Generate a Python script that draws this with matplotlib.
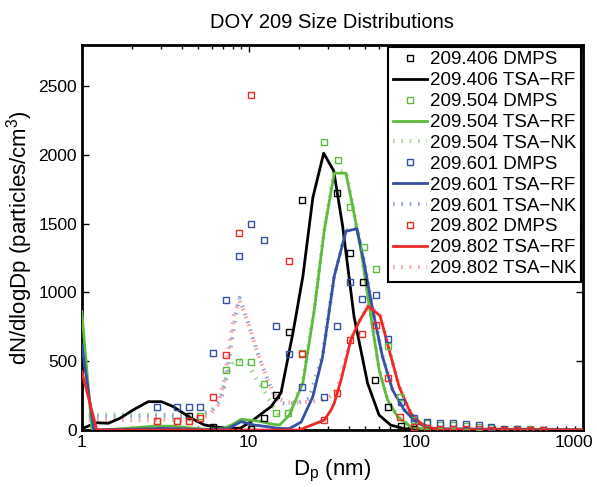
import matplotlib
matplotlib.use('Agg')
from matplotlib import pyplot as plt
from matplotlib.transforms import ScaledTranslation

plt.rcParams['font.family'] = ['Liberation Sans', 'DejaVu Sans']
plt.rcParams['mathtext.default'] = 'regular'

# DMPS measurements (diameter nm, dN/dlogDp)
d_k = [4.37, 6.1, 8.6, 10.3, 12.3, 14.6, 17.5, 20.8, 33.8, 40.3, 48.1, 57.1, 68.5, 81.5, 98, 117]
n_k = [100, 24, 0, 10, 85, 255, 712, 1669, 1725, 1288, 1074, 364, 165, 30, 10, 5]

d_g = [2.82, 3.71, 4.37, 5.1, 7.26, 8.7, 10.3, 12.3, 14.6, 17.3, 20.8, 28.4, 34.1, 40.2, 48.7,
       57.8, 68.5, 81, 98, 117, 140, 167, 199, 238, 284, 340, 405, 485, 578]
n_g = [66, 66, 68, 102, 437, 498, 493, 335, 126, 122, 559, 2090, 1961, 1623, 1329,
       1171, 612, 243, 73, 50, 40, 35, 30, 25, 15, 10, 5, 5, 3]

d_b = [2.82, 3.71, 4.37, 5.1, 6.1, 7.26, 8.7, 10.3, 12.3, 14.6, 17.5, 20.8, 28.4, 33.7, 40.2,
       48, 57.5, 68.5, 81.9, 98, 117, 140, 167, 199, 238, 284, 340, 405, 485, 578]
n_b = [165, 165, 170, 170, 559, 948, 1263, 1501, 1378, 753, 554, 316, 243, 753, 1074,
       955, 979, 661, 206, 85, 55, 50, 48, 45, 35, 20, 10, 5, 3, 2]

d_r = [2.82, 3.71, 4.37, 5.1, 6.1, 7.26, 8.7, 10.3, 17.5, 20.8, 28.4, 33.7, 40.2, 48, 57.5,
       68.5, 81, 98, 117, 140, 167, 199, 238, 284, 340, 405, 485, 578]
n_r = [68, 68, 68, 85, 238, 547, 1429, 2434, 1232, 554, 73, 272, 651, 698, 765,
       381, 92, 20, 15, 10, 10, 8, 5, 0, 0, 0, 0, 0]

# TSA-RF inversions
rf_dk = [1.0, 1.23, 1.44, 1.69, 2.03, 2.5, 3.0, 3.53, 3.78, 4.53, 5.45, 6.25, 7.5, 8.8, 10.3,
         12.4, 13.6, 15.6, 18.4, 21.1, 24.2, 28.1, 32.3, 36.5, 42.7, 51.5, 60.3, 70.8, 85, 110, 1000]
rf_nk = [10, 53, 49, 85, 146, 206, 206, 170, 146, 85, 36, 24, 12, 10, 60,
         134, 170, 270, 707, 1117, 1689, 2012, 1883, 1482, 826, 340, 109, 36, 10, 0, 0]

rf_dg = [1.0, 1.15, 1.5, 2.0, 2.7, 3.5, 4.5, 5.5, 7.0, 8.0, 9.0, 10.5, 11.9, 13.5, 15.3, 17.5,
         21.1, 24.7, 28.4, 32.5, 38.2, 41.9, 47.0, 53.9, 60.4, 67.8, 77.8, 93.3, 115, 1000]
rf_ng = [862, 0, 5, 15, 28, 28, 15, 5, 10, 40, 78, 70, 61, 45, 36, 109,
         343, 875, 1458, 1867, 1867, 1627, 1312, 824, 437, 219, 97, 24, 5, 0]

rf_db = [1.0, 1.18, 2, 3, 4, 5.5, 7.5, 9.0, 10.8, 13.0, 15, 17.5, 20.6, 24.2, 27.7, 32.5,
         38.2, 44.4, 49.1, 55.2, 63.2, 72.6, 85.2, 102, 125, 1000]
rf_nb = [620, 0, 5, 12, 8, 2, 10, 61, 36, 24, 12, 10, 58, 243, 534, 1117,
         1445, 1463, 1215, 875, 534, 292, 146, 51, 10, 0]

rf_dr = [1.0, 1.23, 20, 28.4, 31.1, 32.5, 35.7, 40.9, 45.9, 51.9, 61.2, 69.3, 79.5, 93.3,
         107, 123, 150, 1000]
rf_nr = [425, 0, 0, 73, 146, 195, 364, 656, 790, 899, 831, 583, 316, 122,
         49, 15, 3, 0]

# TSA-NK inversions
nk_dg = [1.1, 1.5, 2, 3, 4, 5, 6, 6.8, 7.4, 8.0, 8.8, 9.9, 11.0, 12.3, 13.5, 15.0, 16.5, 18,
         21.1, 24.7, 28.4, 32.5, 38.2, 41.9, 47.0, 53.9, 60.4, 67.8, 77.8, 93.3, 115, 150]
nk_ng = [110, 115, 110, 115, 110, 115, 140, 250, 400, 480, 510, 480, 380, 290, 200, 120, 100, 150,
         360, 890, 1470, 1880, 1880, 1640, 1320, 830, 445, 225, 100, 28, 6, 0]

nk_db = [1.1, 2, 3, 4, 5, 6, 6.8, 7.4, 7.9, 8.4, 8.8, 9.9, 11.3, 13.0, 14.9, 17, 20, 23,
         27.7, 32.5, 38.2, 44.4, 49.1, 55.2, 63.2, 72.6, 85.2, 102, 125, 150]
nk_nb = [100, 100, 105, 100, 105, 140, 220, 400, 650, 850, 960, 780, 560, 360, 200, 190, 200, 230,
         540, 1120, 1450, 1470, 1220, 880, 540, 300, 150, 55, 12, 0]

nk_dr = [1.1, 2, 3, 4, 5, 5.8, 6.5, 7.1, 7.6, 8.2, 8.8, 9.9, 11.3, 13.0, 14.5, 17, 20, 25,
         28.4, 32.5, 35.7, 40.9, 45.9, 51.9, 61.2, 69.3, 79.5, 93.3, 107, 123, 150]
nk_nr = [75, 70, 75, 70, 80, 110, 180, 350, 600, 850, 940, 780, 560, 360, 240, 200, 200, 210,
         220, 260, 380, 670, 790, 905, 840, 590, 320, 125, 50, 15, 0]

K = 'black'
G = '#5fbb3f'
B = '#3650a2'
R = '#ee2a26'
G2 = '#a9d99a'
B2 = '#97a6d6'
R2 = '#f5a3a3'

fig = plt.figure(figsize=(5.97, 4.87), dpi=100)
ax = fig.add_axes([0.137, 0.117, 0.839, 0.791])

def dmps(d, n, c, lab):
    ax.plot(d, n, ls='none', marker='s', ms=5, mfc='none', mec=c, mew=1.0, label=lab, zorder=4)

def rf(d, n, c, lab):
    ax.plot(d, n, '-', color=c, lw=2.0, label=lab, zorder=3)

def nk(d, n, c, lab):
    ax.plot(d, n, color=c, lw=3.0, ls=(0, (0.4, 1.6)), dash_capstyle='butt', label=lab, zorder=2)

dmps(d_k, n_k, K, '209.406 DMPS')
rf(rf_dk, rf_nk, K, '209.406 TSA\u2212RF')
dmps(d_g, n_g, G, '209.504 DMPS')
rf(rf_dg, rf_ng, G, '209.504 TSA\u2212RF')
nk(nk_dg, nk_ng, G2, '209.504 TSA\u2212NK')
dmps(d_b, n_b, B, '209.601 DMPS')
rf(rf_db, rf_nb, B, '209.601 TSA\u2212RF')
nk(nk_db, nk_nb, B2, '209.601 TSA\u2212NK')
dmps(d_r, n_r, R, '209.802 DMPS')
rf(rf_dr, rf_nr, R, '209.802 TSA\u2212RF')
nk(nk_dr, nk_nr, R2, '209.802 TSA\u2212NK')

ax.set_xscale('log')
ax.set_xlim(1, 1000)
ax.set_ylim(0, 2800)
ax.set_xticks([1, 10, 100, 1000])
ax.set_xticklabels(['1', '10', '100', '1000'])
ax.set_yticks([0, 500, 1000, 1500, 2000, 2500])
ax.tick_params(which='both', direction='in', top=True, right=True, labelsize=12.5, width=1)
ax.tick_params(which='major', length=5)
ax.tick_params(which='minor', length=3)
for s in ax.spines.values():
    s.set_linewidth(2)

# keep the last x label inside the picture
last = ax.get_xticklabels()[-1]
last.set_transform(last.get_transform() + ScaledTranslation(-6 / 72, 0, fig.dpi_scale_trans))

ax.set_title('DOY 209 Size Distributions', fontsize=14.5, pad=12)
ax.set_xlabel('D$_p$ (nm)', fontsize=16, labelpad=6)
ax.set_ylabel('dN/dlogDp (particles/cm$^3$)', fontsize=16, labelpad=2)

leg = ax.legend(loc='upper right', fontsize=13.5, fancybox=False, framealpha=1,
                edgecolor='black', borderaxespad=0.1, handlelength=1.8,
                handletextpad=0.15, labelspacing=0.2, borderpad=0.25)
leg.get_frame().set_linewidth(1.5)

fig.savefig('out.png', dpi=100)
